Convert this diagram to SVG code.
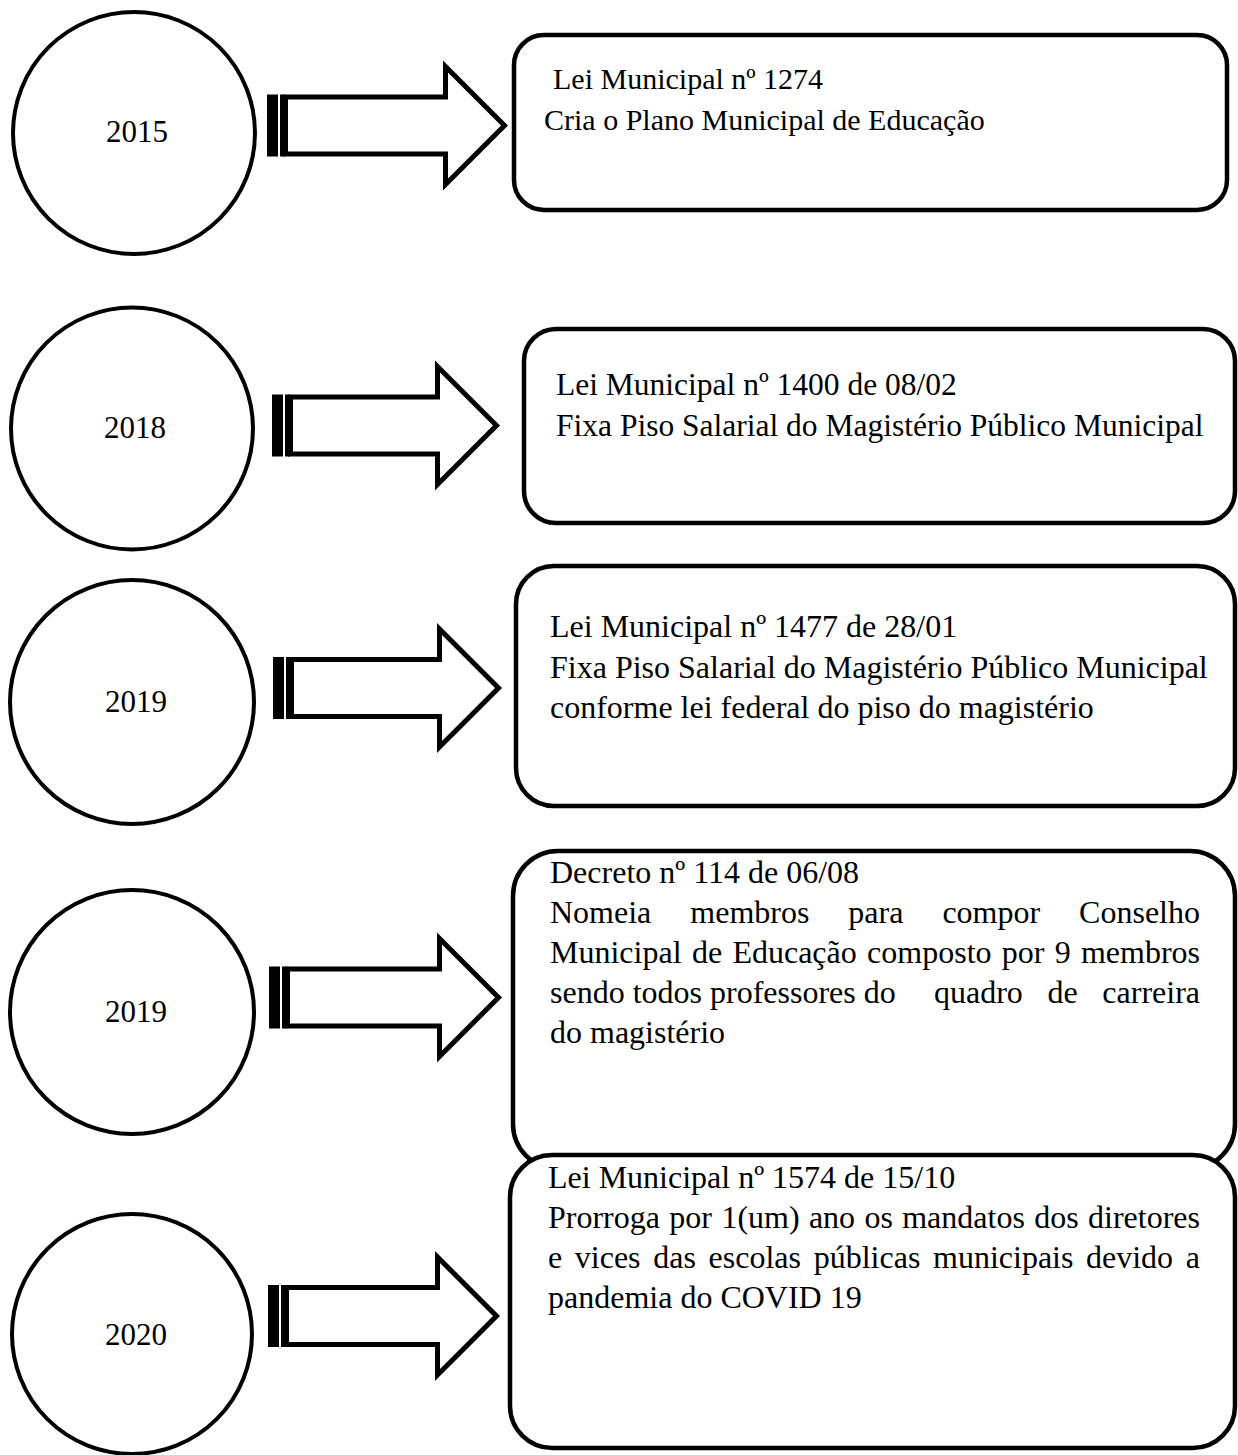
<svg xmlns="http://www.w3.org/2000/svg" width="1238" height="1455" viewBox="0 0 1238 1455">
<style>
.circ{fill:#fff;stroke:#000;stroke-width:4}
.box{fill:#fff;stroke:#000;stroke-width:4.5}
.arr{fill:#fff;stroke:#000;stroke-width:5;stroke-linejoin:miter;stroke-miterlimit:10}
.bar{fill:#000}
.yr{font-family:"Liberation Serif","Times New Roman",serif;font-size:31px;fill:#000;text-anchor:middle}
.t{font-family:"Liberation Serif","Times New Roman",serif;font-size:32px;fill:#000}
.t1{font-size:30px}
.t2{font-size:31.5px}
.e{text-anchor:end}
</style>
<rect width="1238" height="1455" fill="#fff"/>
<g id="year-2015"><circle class="circ" cx="134" cy="133" r="121"/><text class="yr" x="137" y="142">2015</text></g>
<g id="year-2018"><circle class="circ" cx="132" cy="428.5" r="121"/><text class="yr" x="135" y="438">2018</text></g>
<g id="year-2019a"><circle class="circ" cx="132" cy="702" r="122"/><text class="yr" x="136" y="712">2019</text></g>
<g id="year-2019b"><circle class="circ" cx="132" cy="1012" r="122"/><text class="yr" x="136" y="1022">2019</text></g>
<g id="year-2020"><circle class="circ" cx="132" cy="1334" r="120"/><text class="yr" x="136" y="1345">2020</text></g>
<g id="connectors">
<g><rect class="bar" x="267" y="94.5" width="11" height="62"/><rect class="bar" x="280" y="94.5" width="5" height="62"/><polygon class="arr" points="285.5,97 445.5,97 445.5,66.5 504.5,125.5 445.5,184.5 445.5,154 285.5,154"/></g>
<g><rect class="bar" x="272" y="394.5" width="11" height="62"/><rect class="bar" x="285" y="394.5" width="5" height="62"/><polygon class="arr" points="290.5,397 437.5,397 437.5,366.5 496.5,425.5 437.5,484.5 437.5,454 290.5,454"/></g>
<g><rect class="bar" x="273" y="657" width="11" height="62"/><rect class="bar" x="286" y="657" width="5" height="62"/><polygon class="arr" points="291.5,659.5 439.5,659.5 439.5,629 498.5,688 439.5,747 439.5,716.5 291.5,716.5"/></g>
<g><rect class="bar" x="269" y="966.5" width="11" height="62"/><rect class="bar" x="282" y="966.5" width="5" height="62"/><polygon class="arr" points="287.5,969 439.5,969 439.5,938.5 498.5,997.5 439.5,1056.5 439.5,1026 287.5,1026"/></g>
<g><rect class="bar" x="268" y="1285" width="11" height="62"/><rect class="bar" x="281" y="1285" width="5" height="62"/><polygon class="arr" points="286.5,1287.5 437.5,1287.5 437.5,1257 496.5,1316 437.5,1375 437.5,1344.5 286.5,1344.5"/></g>
</g>
<g id="law-1274">
<rect class="box" x="514" y="35" width="713" height="175" rx="30"/>
<text class="t t1" x="553" y="89">Lei Municipal nº 1274</text>
<text class="t t1" x="544" y="130">Cria o Plano Municipal de Educação</text>
</g>
<g id="law-1400">
<rect class="box" x="524" y="329" width="711" height="194" rx="32"/>
<text class="t t2" x="556" y="395">Lei Municipal nº 1400 de 08/02</text>
<text class="t t2" x="556" y="436">Fixa Piso Salarial do Magistério Público Municipal</text>
</g>
<g id="law-1477">
<rect class="box" x="516" y="566" width="719" height="240" rx="38"/>
<text class="t" x="550" y="637">Lei Municipal nº 1477 de 28/01</text>
<text class="t" x="550" y="678">Fixa Piso Salarial do Magistério Público Municipal</text>
<text class="t" x="550" y="718">conforme lei federal do piso do magistério</text>
</g>
<g id="decree-114">
<rect class="box" x="513" y="851" width="722" height="318" rx="45"/>
<text class="t" x="550" y="883">Decreto nº 114 de 06/08</text>
<text class="t" y="923"><tspan x="550">Nomeia</tspan><tspan x="690.3">membros</tspan><tspan x="848.3">para</tspan><tspan x="942.4">compor</tspan><tspan class="e" x="1200">Conselho</tspan></text>
<text class="t" y="963"><tspan x="550">Municipal</tspan><tspan x="691.9">de</tspan><tspan x="732.4">Educação</tspan><tspan x="867.1">composto</tspan><tspan x="1001.8">por</tspan><tspan x="1054.8">9</tspan><tspan class="e" x="1200">membros</tspan></text>
<text class="t" y="1003"><tspan x="550">sendo</tspan><tspan x="632.7">todos</tspan><tspan x="710">professores</tspan><tspan x="863.7">do</tspan><tspan x="934">quadro</tspan><tspan x="1047.5">de</tspan><tspan class="e" x="1200">carreira</tspan></text>
<text class="t" x="550" y="1043">do magistério</text>
</g>
<g id="law-1574">
<rect class="box" x="510" y="1155" width="725" height="293" rx="42"/>
<text class="t" x="548" y="1188">Lei Municipal nº 1574 de 15/10</text>
<text class="t" y="1228"><tspan x="548">Prorroga</tspan><tspan x="669.3">por</tspan><tspan x="721.4">1(um)</tspan><tspan x="808.9">ano</tspan><tspan x="864.4">os</tspan><tspan x="902.2">mandatos</tspan><tspan x="1034.2">dos</tspan><tspan class="e" x="1200">diretores</tspan></text>
<text class="t" y="1268"><tspan x="548">e</tspan><tspan x="574.8">vices</tspan><tspan x="653.3">das</tspan><tspan x="708.6">escolas</tspan><tspan x="813.7">públicas</tspan><tspan x="933">municipais</tspan><tspan x="1086">devido</tspan><tspan class="e" x="1200">a</tspan></text>
<text class="t" x="548" y="1308">pandemia do COVID 19</text>
</g>
</svg>
